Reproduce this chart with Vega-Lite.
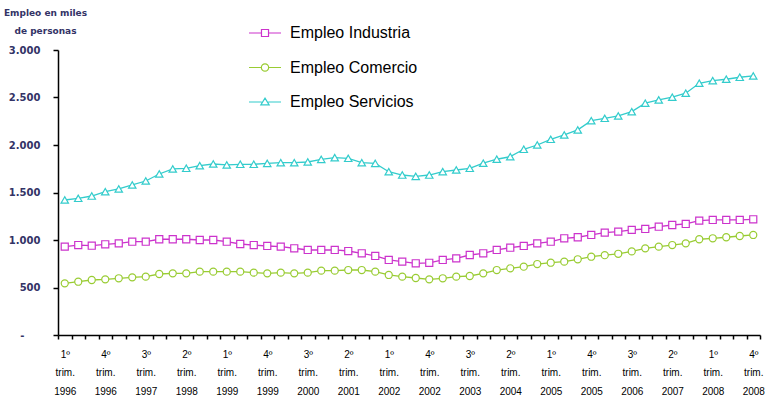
{
  "$schema": "https://vega.github.io/schema/vega-lite/v6.json",
  "width": 702,
  "height": 285,
  "autosize": {"type": "none"},
  "padding": {"left": 58, "top": 50, "right": 8, "bottom": 66},
  "background": "white",
  "config": {"view": {"stroke": null}, "font": "Liberation Sans"},
  "data": {
    "values": [
      {"q": "1º trim. 1996", "Empleo Industria": 930, "Empleo Comercio": 544, "Empleo Servicios": 1421},
      {"q": "2º trim. 1996", "Empleo Industria": 947, "Empleo Comercio": 561, "Empleo Servicios": 1439},
      {"q": "3º trim. 1996", "Empleo Industria": 940, "Empleo Comercio": 579, "Empleo Servicios": 1463},
      {"q": "4º trim. 1996", "Empleo Industria": 955, "Empleo Comercio": 586, "Empleo Servicios": 1509},
      {"q": "1º trim. 1997", "Empleo Industria": 965, "Empleo Comercio": 597, "Empleo Servicios": 1537},
      {"q": "2º trim. 1997", "Empleo Industria": 982, "Empleo Comercio": 607, "Empleo Servicios": 1579},
      {"q": "3º trim. 1997", "Empleo Industria": 982, "Empleo Comercio": 614, "Empleo Servicios": 1621},
      {"q": "4º trim. 1997", "Empleo Industria": 1008, "Empleo Comercio": 642, "Empleo Servicios": 1695},
      {"q": "1º trim. 1998", "Empleo Industria": 1008, "Empleo Comercio": 649, "Empleo Servicios": 1748},
      {"q": "2º trim. 1998", "Empleo Industria": 1008, "Empleo Comercio": 649, "Empleo Servicios": 1755},
      {"q": "3º trim. 1998", "Empleo Industria": 1000, "Empleo Comercio": 667, "Empleo Servicios": 1783},
      {"q": "4º trim. 1998", "Empleo Industria": 1000, "Empleo Comercio": 667, "Empleo Servicios": 1800},
      {"q": "1º trim. 1999", "Empleo Industria": 982, "Empleo Comercio": 667, "Empleo Servicios": 1790},
      {"q": "2º trim. 1999", "Empleo Industria": 958, "Empleo Comercio": 667, "Empleo Servicios": 1797},
      {"q": "3º trim. 1999", "Empleo Industria": 947, "Empleo Comercio": 656, "Empleo Servicios": 1797},
      {"q": "4º trim. 1999", "Empleo Industria": 937, "Empleo Comercio": 649, "Empleo Servicios": 1807},
      {"q": "1º trim. 2000", "Empleo Industria": 930, "Empleo Comercio": 656, "Empleo Servicios": 1814},
      {"q": "2º trim. 2000", "Empleo Industria": 913, "Empleo Comercio": 649, "Empleo Servicios": 1814},
      {"q": "3º trim. 2000", "Empleo Industria": 895, "Empleo Comercio": 656, "Empleo Servicios": 1821},
      {"q": "4º trim. 2000", "Empleo Industria": 895, "Empleo Comercio": 677, "Empleo Servicios": 1849},
      {"q": "1º trim. 2001", "Empleo Industria": 895, "Empleo Comercio": 677, "Empleo Servicios": 1867},
      {"q": "2º trim. 2001", "Empleo Industria": 884, "Empleo Comercio": 684, "Empleo Servicios": 1860},
      {"q": "3º trim. 2001", "Empleo Industria": 860, "Empleo Comercio": 684, "Empleo Servicios": 1814},
      {"q": "4º trim. 2001", "Empleo Industria": 832, "Empleo Comercio": 667, "Empleo Servicios": 1807},
      {"q": "1º trim. 2002", "Empleo Industria": 790, "Empleo Comercio": 632, "Empleo Servicios": 1719},
      {"q": "2º trim. 2002", "Empleo Industria": 772, "Empleo Comercio": 614, "Empleo Servicios": 1684},
      {"q": "3º trim. 2002", "Empleo Industria": 755, "Empleo Comercio": 600, "Empleo Servicios": 1670},
      {"q": "4º trim. 2002", "Empleo Industria": 760, "Empleo Comercio": 586, "Empleo Servicios": 1684},
      {"q": "1º trim. 2003", "Empleo Industria": 790, "Empleo Comercio": 597, "Empleo Servicios": 1720},
      {"q": "2º trim. 2003", "Empleo Industria": 807, "Empleo Comercio": 614, "Empleo Servicios": 1737},
      {"q": "3º trim. 2003", "Empleo Industria": 842, "Empleo Comercio": 621, "Empleo Servicios": 1755},
      {"q": "4º trim. 2003", "Empleo Industria": 860, "Empleo Comercio": 649, "Empleo Servicios": 1808},
      {"q": "1º trim. 2004", "Empleo Industria": 895, "Empleo Comercio": 684, "Empleo Servicios": 1850},
      {"q": "2º trim. 2004", "Empleo Industria": 919, "Empleo Comercio": 702, "Empleo Servicios": 1877},
      {"q": "3º trim. 2004", "Empleo Industria": 937, "Empleo Comercio": 719, "Empleo Servicios": 1955},
      {"q": "4º trim. 2004", "Empleo Industria": 965, "Empleo Comercio": 747, "Empleo Servicios": 2000},
      {"q": "1º trim. 2005", "Empleo Industria": 982, "Empleo Comercio": 761, "Empleo Servicios": 2060},
      {"q": "2º trim. 2005", "Empleo Industria": 1018, "Empleo Comercio": 772, "Empleo Servicios": 2106},
      {"q": "3º trim. 2005", "Empleo Industria": 1029, "Empleo Comercio": 797, "Empleo Servicios": 2159},
      {"q": "4º trim. 2005", "Empleo Industria": 1053, "Empleo Comercio": 824, "Empleo Servicios": 2256},
      {"q": "1º trim. 2006", "Empleo Industria": 1077, "Empleo Comercio": 840, "Empleo Servicios": 2281},
      {"q": "2º trim. 2006", "Empleo Industria": 1088, "Empleo Comercio": 855, "Empleo Servicios": 2306},
      {"q": "3º trim. 2006", "Empleo Industria": 1106, "Empleo Comercio": 880, "Empleo Servicios": 2351},
      {"q": "4º trim. 2006", "Empleo Industria": 1116, "Empleo Comercio": 912, "Empleo Servicios": 2440},
      {"q": "1º trim. 2007", "Empleo Industria": 1140, "Empleo Comercio": 930, "Empleo Servicios": 2475},
      {"q": "2º trim. 2007", "Empleo Industria": 1158, "Empleo Comercio": 947, "Empleo Servicios": 2503},
      {"q": "3º trim. 2007", "Empleo Industria": 1169, "Empleo Comercio": 965, "Empleo Servicios": 2545},
      {"q": "4º trim. 2007", "Empleo Industria": 1204, "Empleo Comercio": 1008, "Empleo Servicios": 2650},
      {"q": "1º trim. 2008", "Empleo Industria": 1211, "Empleo Comercio": 1018, "Empleo Servicios": 2678},
      {"q": "2º trim. 2008", "Empleo Industria": 1211, "Empleo Comercio": 1029, "Empleo Servicios": 2692},
      {"q": "3º trim. 2008", "Empleo Industria": 1211, "Empleo Comercio": 1042, "Empleo Servicios": 2713},
      {"q": "4º trim. 2008", "Empleo Industria": 1218, "Empleo Comercio": 1053, "Empleo Servicios": 2727}
    ]
  },
  "transform": [
    {"fold": ["Empleo Industria", "Empleo Comercio", "Empleo Servicios"], "as": ["serie", "valor"]}
  ],
  "encoding": {
    "x": {
      "field": "q",
      "type": "ordinal",
      "sort": null,
      "scale": {"type": "band", "paddingInner": 0, "paddingOuter": 0},
      "axis": {
        "title": null,
        "tickBand": "extent",
        "labelExpr": "indexof(['1º trim. 1996','4º trim. 1996','3º trim. 1997','2º trim. 1998','1º trim. 1999','4º trim. 1999','3º trim. 2000','2º trim. 2001','1º trim. 2002','4º trim. 2002','3º trim. 2003','2º trim. 2004','1º trim. 2005','4º trim. 2005','3º trim. 2006','2º trim. 2007','1º trim. 2008','4º trim. 2008'], datum.value) >= 0 ? split(datum.value, ' ') : ''",
        "labelAngle": 0,
        "labelAlign": "center",
        "labelBaseline": "top",
        "labelFont": "Liberation Sans",
        "labelFontSize": 10,
        "labelColor": "black",
        "labelLineHeight": 18.5,
        "labelPadding": 10,
        "labelOverlap": false,
        "tickSize": 4,
        "tickColor": "black",
        "tickWidth": 1.5,
        "domainColor": "black",
        "domainWidth": 1.5
      }
    },
    "y": {
      "field": "valor",
      "type": "quantitative",
      "scale": {"domain": [0, 3000], "nice": false, "zero": true},
      "axis": {
        "title": ["Empleo en miles", "de personas"],
        "titleAngle": 0,
        "titleAlign": "center",
        "titleBaseline": "top",
        "titleX": -13,
        "titleY": -42,
        "titleFont": "DejaVu Sans",
        "titleFontSize": 9,
        "titleFontWeight": "bold",
        "titleColor": "#333366",
        "titleLineHeight": 18,
        "values": [0, 500, 1000, 1500, 2000, 2500, 3000],
        "labelExpr": "datum.value == 0 ? '-' : replace(format(datum.value, ','), ',', '.')",
        "labelFont": "DejaVu Sans",
        "labelFontSize": 10,
        "labelFontWeight": "bold",
        "labelColor": "#333366",
        "labelPadding": {"condition": {"test": "datum.value == 0", "value": 29}, "value": 13},
        "tickSize": 5,
        "tickColor": "black",
        "tickWidth": 1.5,
        "domainColor": "black",
        "domainWidth": 1.5,
        "grid": false
      }
    },
    "stroke": {
      "field": "serie",
      "type": "nominal",
      "scale": {
        "domain": ["Empleo Industria", "Empleo Comercio", "Empleo Servicios"],
        "range": ["#CC33CC", "#99CC33", "#33CCCC"]
      },
      "legend": {
        "orient": "none",
        "legendX": 190,
        "legendY": -34,
        "title": null,
        "padding": 0,
        "symbolSize": 1024,
        "symbolStrokeWidth": 1.2,
        "symbolFillColor": "white",
        "labelFont": "Liberation Sans",
        "labelFontSize": 16,
        "labelColor": "black",
        "labelOffset": 8,
        "rowPadding": 9.5
      }
    }
  },
  "layer": [
    {"mark": {"type": "line", "strokeWidth": 1.3}},
    {
      "transform": [{"filter": "datum.serie == 'Empleo Industria'"}],
      "mark": {"type": "point", "shape": "square", "filled": true, "fill": "white", "strokeWidth": 1.2, "opacity": 1, "size": 50}
    },
    {
      "transform": [{"filter": "datum.serie == 'Empleo Comercio'"}],
      "mark": {"type": "point", "shape": "circle", "filled": true, "fill": "white", "strokeWidth": 1.2, "opacity": 1, "size": 50}
    },
    {
      "transform": [{"filter": "datum.serie == 'Empleo Servicios'"}],
      "mark": {"type": "point", "shape": "triangle-up", "filled": true, "fill": "white", "strokeWidth": 1.2, "opacity": 1, "size": 55}
    },
    {
      "transform": [{"filter": "false"}],
      "mark": {"type": "point", "filled": true, "fill": "white", "strokeWidth": 1.2, "opacity": 1},
      "encoding": {
        "shape": {
          "field": "serie",
          "type": "nominal",
          "scale": {
            "domain": ["Empleo Industria", "Empleo Comercio", "Empleo Servicios"],
            "range": [
              "M-1,0H-0.22M0.22,0H1M-0.22,-0.22H0.22V0.22H-0.22Z",
              "M-1,0H-0.23M0.23,0H1M-0.23,0A0.23,0.23,0,1,1,0.23,0A0.23,0.23,0,1,1,-0.23,0Z",
              "M-1,0H-0.2M0.2,0H1M0,-0.24L0.26,0.18H-0.26Z"
            ]
          }
        }
      }
    }
  ]
}
